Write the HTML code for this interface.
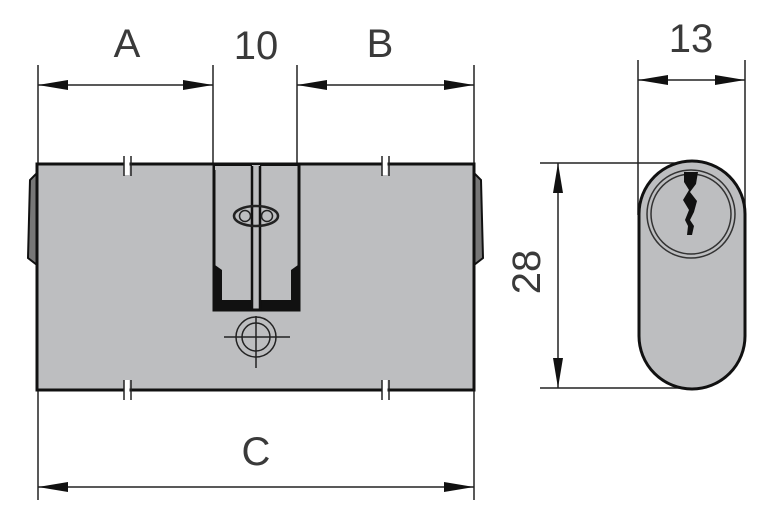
<!DOCTYPE html>
<html><head><style>html,body{margin:0;padding:0;background:#fff}svg{display:block}</style></head>
<body>
<svg width="768" height="513" viewBox="0 0 768 513" xmlns="http://www.w3.org/2000/svg" font-family="Liberation Sans, sans-serif">
<defs>
<marker id="ab" viewBox="0 0 30 12" refX="30" refY="6" markerWidth="30" markerHeight="12" markerUnits="userSpaceOnUse" orient="auto-start-reverse"><path d="M0,1 L30,6 L0,11 z" fill="#111"/></marker>
</defs>
<g stroke="#222" stroke-width="1.5" fill="none">
<line x1="38" y1="65" x2="38" y2="500"/>
<line x1="474" y1="65" x2="474" y2="500"/>
<line x1="213" y1="65" x2="213" y2="164"/>
<line x1="297" y1="65" x2="297" y2="164"/>
<line x1="38" y1="85" x2="213" y2="85" marker-start="url(#ab)" marker-end="url(#ab)"/>
<line x1="297" y1="85" x2="474" y2="85" marker-start="url(#ab)" marker-end="url(#ab)"/>
<line x1="38" y1="487" x2="474" y2="487" marker-start="url(#ab)" marker-end="url(#ab)"/>
<line x1="638" y1="60" x2="638" y2="215"/>
<line x1="745" y1="60" x2="745" y2="215"/>
<line x1="638" y1="80" x2="745" y2="80" marker-start="url(#ab)" marker-end="url(#ab)"/>
<line x1="540" y1="163" x2="690" y2="163"/>
<line x1="540" y1="388" x2="690" y2="388"/>
<line x1="558" y1="163" x2="558" y2="388" marker-start="url(#ab)" marker-end="url(#ab)"/>
</g>
<path d="M37,173 L30,180 L28,258 L37,265 Z" fill="#777" stroke="#111" stroke-width="2"/>
<path d="M474,173 L481,180 L483,258 L474,265 Z" fill="#777" stroke="#111" stroke-width="2"/>
<rect x="37" y="164" width="437" height="226" fill="#bdbec0" stroke="#111" stroke-width="3"/>
<g stroke="#fff" stroke-width="5"><line x1="127" y1="155" x2="127" y2="175"/><line x1="385" y1="155" x2="385" y2="175"/><line x1="127" y1="380" x2="127" y2="400"/><line x1="385" y1="380" x2="385" y2="400"/></g>
<g stroke="#222" stroke-width="1.5"><line x1="124" y1="156" x2="124" y2="176"/><line x1="131" y1="156" x2="131" y2="176"/><line x1="382" y1="156" x2="382" y2="176"/><line x1="389" y1="156" x2="389" y2="176"/><line x1="124" y1="380" x2="124" y2="400"/><line x1="131" y1="380" x2="131" y2="400"/><line x1="382" y1="380" x2="382" y2="400"/><line x1="389" y1="380" x2="389" y2="400"/></g>
<!-- cam slot -->
<path d="M214,165 L214,310 L299,310 L299,165" fill="#bdbec0" stroke="#111" stroke-width="3"/>
<path d="M215,265 L222,270 L222,300 L252,300 L252,309 L215,309 Z" fill="#111"/>
<path d="M298,265 L291,270 L291,300 L260,300 L260,309 L298,309 Z" fill="#111"/>
<path d="M215,165 L251,165 L251,170 L215,170 Z" fill="#bdbec0"/>
<path d="M252,166 L252,310 M260,166 L260,310" stroke="#111" stroke-width="2.5"/>
<line x1="214" y1="165" x2="252" y2="165" stroke="#111" stroke-width="2"/>
<line x1="260" y1="165" x2="299" y2="165" stroke="#111" stroke-width="2"/>
<ellipse cx="256" cy="216" rx="22" ry="10" fill="none" stroke="#222" stroke-width="2.5"/>
<circle cx="245" cy="216" r="5.5" fill="none" stroke="#222" stroke-width="1.5"/>
<circle cx="267" cy="216" r="5.5" fill="none" stroke="#222" stroke-width="1.5"/>
<circle cx="256" cy="337" r="20" fill="none" stroke="#222" stroke-width="1.5"/>
<circle cx="256" cy="337" r="14" fill="none" stroke="#222" stroke-width="1.5"/>
<line x1="224" y1="337" x2="290" y2="337" stroke="#222" stroke-width="1.5"/>
<line x1="256" y1="316" x2="256" y2="368" stroke="#222" stroke-width="1.5"/>
<rect x="639" y="161" width="106" height="228" rx="53" ry="53" fill="#bdbec0" stroke="#111" stroke-width="3"/>
<circle cx="691" cy="214" r="44" fill="none" stroke="#333" stroke-width="1.5"/>
<circle cx="691" cy="214" r="40" fill="none" stroke="#333" stroke-width="1.5"/>
<path d="M684,172 L698,172 L696,184 L690,192 L697,201 L694,212 L690,220 L694,226 L692,235 L687,235 L688,226 L685,220 L689,210 L683,200 L689,190 L684,182 Z" fill="#111"/>
<g font-size="40" fill="#3a3a3a" text-anchor="middle">
<text x="127" y="57">A</text>
<text x="256" y="59">10</text>
<text x="380" y="57">B</text>
<text x="256" y="465">C</text>
<text x="691" y="52">13</text>
<text transform="translate(540,272) rotate(-90)">28</text>
</g>
</svg>
</body></html>
